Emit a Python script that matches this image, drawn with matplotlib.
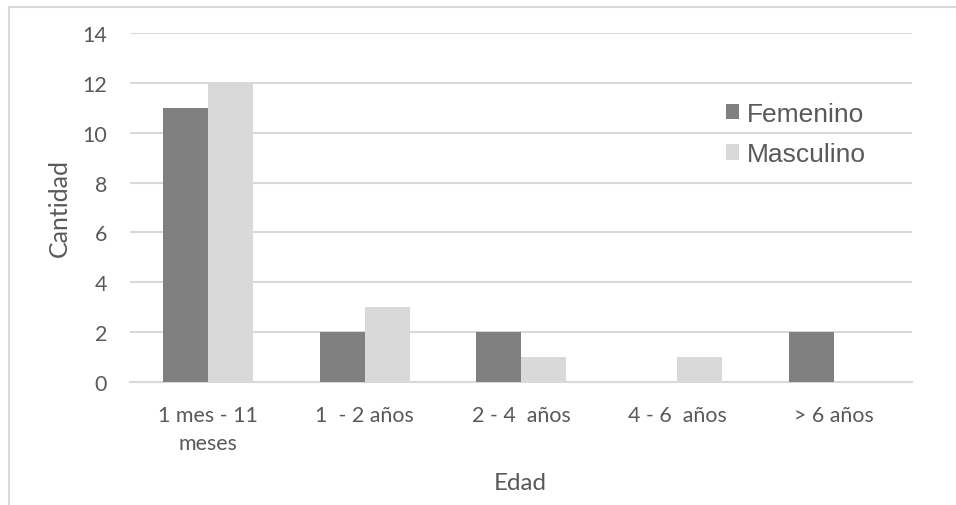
import numpy as np
import matplotlib.pyplot as plt
from matplotlib.lines import Line2D

# datos del grafico (conteo por edad y sexo)
categorias = ['1 mes - 11\nmeses', '1  - 2 años', '2 - 4  años', '4 - 6  años', '> 6 años']
femenino = [11, 2, 2, 0, 2]
masculino = [12, 3, 1, 1, 0]
series = ['Femenino', 'Masculino']

gris_texto = '#595959'
gris_linea = '#D9D9D9'
col_fem = '#808080'
col_mas = '#D9D9D9'

plt.rcParams['font.family'] = ['Lato', 'DejaVu Sans']

fig = plt.figure(figsize=(9.56, 5.06), dpi=100)
ax = fig.add_axes([130/956, 1-383/506, (912-130)/956, (383-34)/506])

x = np.arange(len(categorias))
w = 0.288
ax.bar(x - w/2, femenino, w, color=col_fem, label=series[0], zorder=3)
ax.bar(x + w/2, masculino, w, color=col_mas, label=series[1], zorder=3)

ax.set_xlim(-0.5, len(categorias) - 0.5)
ax.set_ylim(0, 14)
ax.set_yticks(range(0, 15, 2))
ax.set_xticks(x)
ax.set_xticklabels(categorias, linespacing=1.5)
ax.grid(axis='y', color=gris_linea, linewidth=1.5, zorder=0)
for s in ['top', 'right', 'left']:
    ax.spines[s].set_visible(False)
ax.spines['bottom'].set_color(gris_linea)
ax.spines['bottom'].set_linewidth(1.5)
ax.tick_params(length=0, colors=gris_texto, labelsize=15.4)
ax.tick_params(axis='y', pad=16.5)
ax.tick_params(axis='x', pad=16.5)

ax.set_ylabel('Cantidad', color=gris_texto, fontsize=18)
ax.set_xlabel('Edad', color=gris_texto, fontsize=17.4)
ax.yaxis.set_label_coords((59-130)/782, 0.5)
ax.xaxis.set_label_coords((520-130)/782, -(484-383)/349)
ax.yaxis.label.set_va('center')
ax.xaxis.label.set_va('center')

leg = ax.legend(loc='upper left', bbox_to_anchor=(726/956, 1-103/506),
                bbox_transform=fig.transFigure, frameon=False,
                prop={'family': 'Liberation Sans', 'size': 19},
                handlelength=0.5, handleheight=0.5, handletextpad=0.3,
                labelspacing=0.62, borderpad=0, borderaxespad=0)
for t in leg.get_texts():
    t.set_color(gris_texto)

# marco del grafico (solo se ve arriba y a la izquierda)
fig.add_artist(Line2D([9/956, 9/956, 1], [0, 1-8/506, 1-8/506],
                      transform=fig.transFigure, color=gris_linea, linewidth=1.5))

fig.savefig('out.png', dpi=100)
